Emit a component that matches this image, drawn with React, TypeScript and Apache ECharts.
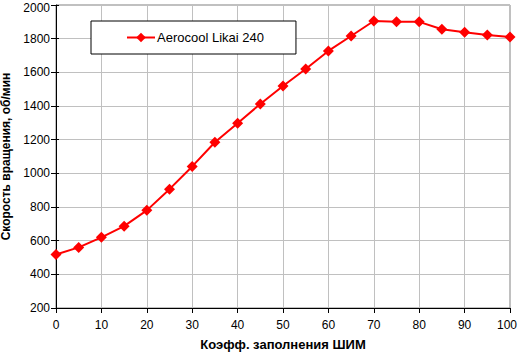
import React, { useEffect, useRef } from "react";
import * as echarts from "echarts";

const xValues = [0, 5, 10, 15, 20, 25, 30, 35, 40, 45, 50, 55, 60, 65, 70, 75, 80, 85, 90, 95, 100];
const rpmValues = [518, 560, 620, 686, 780, 906, 1041, 1185, 1298, 1412, 1519, 1620, 1727, 1816, 1905, 1900, 1900, 1856, 1838, 1822, 1810];
const seriesName = "Aerocool Likai 240";
const xAxisName = "Коэфф. заполнения ШИМ";
const yAxisName = "Скорость вращения, об/мин";

export default function App() {
  const ref = useRef<HTMLDivElement>(null);
  useEffect(() => {
    if (!ref.current) return;
    const chart = echarts.init(ref.current, null, { renderer: "svg" });
    const font = "Arial, 'Liberation Sans', sans-serif";
    chart.setOption({
      animation: false,
      backgroundColor: "#ffffff",
      textStyle: { fontFamily: font },
      grid: {
        left: 56, right: 10, top: 5, bottom: 44,
        show: true, borderColor: "#808080", borderWidth: 1,
        containLabel: false, outerBoundsMode: "none",
      },
      legend: {
        left: 91,
        top: 21,
        padding: [10, 32, 10, 35],
        borderColor: "#000",
        borderWidth: 1,
        backgroundColor: "#fff",
        itemWidth: 28,
        itemHeight: 12,
        itemGap: 2,
        textStyle: { fontFamily: font, fontSize: 13, color: "#000", padding: [0, 0, 0, -3] },
        data: [seriesName],
      },
      xAxis: {
        type: "value",
        min: 0,
        max: 100,
        interval: 10,
        name: xAxisName,
        nameLocation: "middle",
        nameGap: 30,
        nameTextStyle: { fontFamily: font, fontWeight: "bold", fontSize: 13, color: "#000" },
        axisLine: { show: true, onZero: false, lineStyle: { color: "#000", width: 1 } },
        axisTick: { show: true, length: 5, lineStyle: { color: "#000" } },
        axisLabel: {
          fontFamily: font, fontSize: 12, color: "#000", margin: 11,
          formatter: (v: number) => (v === 100 ? "{r|100}" : String(v)),
          rich: { r: { fontFamily: font, fontSize: 12, color: "#000", padding: [0, 6, 0, 0] } },
        },
        splitLine: { show: true, lineStyle: { color: "#c0c0c0", width: 1 } },
      },
      yAxis: [
        {
          type: "value",
          min: 200,
          max: 2000,
          interval: 200,
          name: yAxisName,
          nameLocation: "middle",
          nameGap: 42,
          nameTextStyle: { fontFamily: font, fontWeight: "bold", fontSize: 12, color: "#000" },
          axisLine: { show: true, lineStyle: { color: "#000", width: 1 } },
          axisTick: { show: true, length: 5, lineStyle: { color: "#000" } },
          axisLabel: {
            fontFamily: font, fontSize: 12, color: "#000", margin: 6,
            formatter: (v: number) => (v === 2000 ? "{t|2000}" : String(v)),
            rich: { t: { fontFamily: font, fontSize: 12, color: "#000", padding: [5, 0, 0, 0] } },
          },
          splitLine: { show: true, lineStyle: { color: "#c0c0c0", width: 1 } },
        },
        {
          type: "value",
          min: 200,
          max: 2000,
          interval: 200,
          position: "left",
          axisLine: { show: false },
          axisTick: { show: true, inside: true, length: 3, lineStyle: { color: "#000" } },
          axisLabel: { show: false },
          splitLine: { show: false },
        },
      ],
      series: [
        {
          name: seriesName,
          type: "line",
          data: xValues.map((x, i) => [x, rpmValues[i]]),
          symbol: "diamond",
          symbolSize: 11,
          lineStyle: { color: "#ff0000", width: 2 },
          itemStyle: { color: "#ff0000" },
        },
      ],
    });
    return () => chart.dispose();
  }, []);
  return <div ref={ref} style={{ width: 520, height: 352, position: "absolute", left: 0, top: 0 }} />;
}
